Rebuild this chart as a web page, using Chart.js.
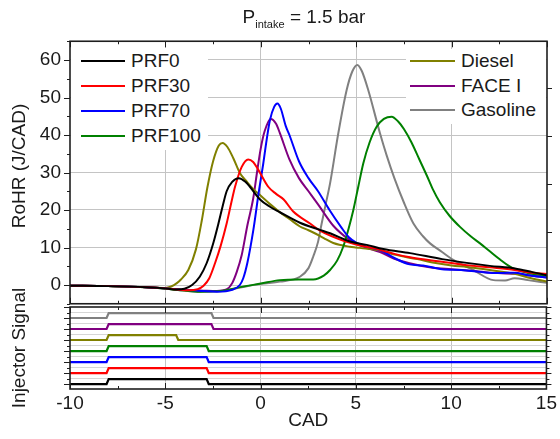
<!DOCTYPE html>
<html>
<head>
<meta charset="utf-8">
<script src="https://cdn.jsdelivr.net/npm/chart.js@4.4.1/dist/chart.umd.min.js"></script>
<style>
  body { margin: 0; background: #fff; font-family: 'Liberation Sans', Arial, sans-serif; color: #1a1a1a; }
  #wrap { position: relative; width: 560px; height: 439px; overflow: hidden; }
  #topChart { position: absolute; left: 0; top: 0; }
  #injChart { position: absolute; left: 0; top: 280px; }
  #title { position: absolute; left: 0; top: 6px; width: 608px; text-align: center; font-size: 19px; line-height: 22px; }
  #title sub { font-size: 11px; vertical-align: -5px; }
  .ytitle { position: absolute; width: 200px; left: -81px; text-align: center; font-size: 19px; line-height: 22px; transform: rotate(-90deg); white-space: nowrap; }
  #rohrTitle { top: 155px; }
  #injTitle { top: 337px; }
  .legend { position: absolute; background: #fff; }
  .legend .row { display: flex; align-items: center; font-size: 19px; white-space: nowrap; }
  .legend .sample { display: inline-block; border-top: 2px solid; }
  #legendLeft { left: 71px; top: 48px; width: 137px; height: 102px; }
  #legendLeft .row { height: 25px; }
  #legendLeft .sample { width: 44px; margin: 0 6px 0 10px; }
  #legendRight { left: 406px; top: 49px; width: 140px; height: 75px; }
  #legendRight .row { height: 24.5px; }
  #legendRight .sample { width: 45px; margin: 0 6px 0 4px; }
</style>
</head>
<body>
<div id="wrap">
  <canvas id="topChart" width="560" height="330"></canvas>
  <canvas id="injChart" width="560" height="159"></canvas>
  <div id="title">P<sub>intake</sub> = 1.5 bar</div>
  <div id="rohrTitle" class="ytitle">RoHR (J/CAD)</div>
  <div id="injTitle" class="ytitle">Injector Signal</div>
  <div id="legendLeft" class="legend"></div>
  <div id="legendRight" class="legend"></div>
</div>
<script>
// --- RoHR curves (CAD, J/CAD) ---
const prf0Cad  = [-10, -8, -6, -5, -4.4, -4.0, -3.6, -3.2, -2.84, -2.5, -2.22, -2.0, -1.79, -1.5, -1.15, -0.8, -0.57, -0.04, 0.5, 1.0, 2.05, 3.1, 3.63, 4.67, 5.55, 6.42, 7.82, 9.5, 10.79, 12, 13.32, 14.2, 15];
const prf0Rohr = [-0.2, -0.3, -0.6, -0.9, -1.2, -1.0, 0, 2.2, 5.8, 11, 16.4, 21, 25, 27.5, 28.5, 27.5, 26.2, 22.8, 20.8, 19.4, 16.6, 14.7, 13.8, 11.6, 10.7, 9.6, 8.5, 6.9, 5.9, 5.1, 4.4, 3.5, 2.6];

const prf30Cad  = [-10, -8, -6, -5, -4.4, -3.8, -3.3, -3.0, -2.7, -2.4, -2.1, -1.79, -1.5, -1.35, -1.0, -0.66, -0.4, -0.13, 0.39, 0.8, 1.2, 1.7, 2.58, 3.1, 4.5, 5.0, 6.0, 7.0, 7.82, 9.5, 10.79, 12, 13.3, 14, 15];
const prf30Rohr = [-0.2, -0.3, -0.6, -0.9, -1.2, -1.4, -1.1, -0.2, 1.8, 5.8, 10.5, 16.4, 23, 26.2, 31.5, 33.5, 32.8, 30.7, 26.2, 24.3, 22.8, 19.6, 16.4, 14.5, 11.5, 10.8, 9.7, 8.3, 7.4, 6.2, 5.3, 4.7, 4.0, 3.4, 2.9];

const prf70Cad  = [-10, -8, -6, -5, -4, -3, -2.3, -1.5, -1.1, -0.92, -0.7, -0.39, -0.1, 0.13, 0.3, 0.48, 0.7, 0.87, 1.05, 1.3, 1.5, 2.0, 2.5, 3.0, 3.6, 4.2, 4.6, 5.0, 5.5, 6.25, 7.0, 7.8, 8.5, 9.5, 10.5, 11.5, 12.5, 13.3, 14, 15];
const prf70Rohr = [-0.2, -0.3, -0.6, -0.9, -1.3, -1.6, -1.8, -1.3, 0, 1.8, 6, 14.7, 25, 32.4, 38.5, 44, 47.5, 48.4, 47, 42.5, 40, 33, 28.5, 25, 20, 15.5, 12.8, 11.3, 10.3, 9.3, 7.2, 5.5, 5.2, 4.2, 4.0, 3.5, 3.2, 3.3, 2.6, 2.0];

const prf100Cad  = [-10, -8, -6, -5, -4, -3.2, -2, -1, 0, 1, 2, 2.75, 3.3, 3.63, 4.0, 4.32, 4.6, 4.85, 5.1, 5.37, 5.7, 6.07, 6.45, 6.86, 7.2, 7.5, 7.9, 8.3, 8.7, 9.0, 9.39, 9.9, 10.44, 11, 11.49, 12, 12.54, 13, 13.3, 14, 15];
const prf100Rohr = [-0.2, -0.3, -0.6, -1.0, -1.5, -1.8, -1.5, -0.5, 0.4, 1.3, 1.5, 1.5, 2.5, 4, 6.5, 10.2, 15, 20, 26, 32.4, 38, 42.2, 44.3, 44.9, 43.6, 41.6, 38, 33.6, 29.2, 25.7, 22, 18.4, 15.5, 13, 11.1, 9, 6.8, 5.1, 4.3, 3.2, 2.4];

const dieselCad  = [-10, -8, -6, -5, -4.7, -4.4, -4.2, -3.8, -3.4, -3.1, -2.8, -2.5, -2.2, -2.0, -1.75, -1.44, -1.09, -0.74, -0.4, 0, 0.5, 1.0, 1.5, 2.05, 2.5, 2.75, 3.3, 3.8, 4.67, 5, 5.5, 6.4, 7, 8.2, 9, 10, 10.8, 12, 13.3, 14, 15];
const dieselRohr = [-0.2, -0.3, -0.6, -0.8, -0.4, 0.5, 1.4, 4, 9.5, 17, 26, 33, 37.2, 37.9, 36.8, 33.8, 29.8, 27.6, 25.6, 23.8, 21.5, 19.4, 17.6, 15.6, 14.6, 14, 12.5, 11.2, 10.2, 10, 9.7, 9, 8.1, 6.9, 6, 5.2, 4.8, 4, 3, 2, 0.9];

const faceCad  = [-10, -8, -6, -5, -4, -3, -2.3, -1.8, -1.5, -1.26, -1.0, -0.7, -0.4, -0.2, 0.0, 0.2, 0.52, 0.8, 1.0, 1.5, 2.0, 2.5, 3.0, 3.8, 4.6, 5.0, 5.5, 6.25, 7, 7.8, 9, 10, 11, 12, 13.3, 14, 15];
const faceRohr = [-0.2, -0.3, -0.6, -0.9, -1.3, -1.5, -1.6, -1.2, 0.5, 3.5, 8, 16, 23, 30, 36.5, 41, 44.3, 43, 40.5, 33.5, 28.5, 25, 21.5, 15.8, 12.2, 11, 10, 8.8, 7, 5.8, 4.6, 4.2, 3.8, 3.3, 3, 2.6, 2.0];

const gasolineCad  = [-10, -8, -6, -5, -4, -3, -2, -1, 0, 1, 2.05, 2.5, 2.75, 3.0, 3.19, 3.4, 3.63, 4.06, 4.5, 4.8, 5.06, 5.3, 5.63, 6.25, 6.6, 7.0, 7.5, 8.0, 8.5, 8.87, 9.5, 10.09, 11.14, 12.19, 12.8, 13.3, 14, 15];
const gasolineRohr = [-0.2, -0.3, -0.6, -1.0, -1.5, -1.8, -1.6, -0.6, 0.3, 0.9, 2.2, 4.5, 7.6, 11.5, 16.4, 21.5, 27.1, 40.4, 52, 57, 58.7, 57, 52, 40.4, 34.5, 28.5, 22, 16.4, 13, 11.1, 8.8, 6.7, 4, 1.3, 1.2, 1.8, 1.3, 0.6];

// --- injector signal: trace offset, pulse start / end (CAD) ---
const fuelNames   = ['PRF0', 'PRF30', 'PRF70', 'PRF100', 'Diesel', 'FACE I', 'Gasoline'];
const fuelColors  = ['#000000', '#ff0000', '#0000ff', '#008000', '#808000', '#800080', '#808080'];
const injLevel    = [0, 1, 2, 3, 4, 5, 6];
const injStart    = [-8.05, -8.05, -8.05, -8.05, -8.05, -8.05, -8.05];
const injEnd      = [-2.8, -2.8, -2.8, -2.8, -4.4, -2.55, -2.55];
const pulseHeight = 0.45;

// --- axes ---
const xMajorTicks = [-10, -5, 0, 5, 10, 15];
const xMinorTicks = [-7.5, -2.5, 2.5, 7.5, 12.5];
const rohrMajorTicks = [0, 10, 20, 30, 40, 50, 60];
const rohrMinorTicks = [-5, 5, 15, 25, 35, 45, 55, 65];
const rightTicks = [0, 1, 2, 3, 4];
const injMajorTicks = [0, 1, 2, 3, 4, 5, 6, 7];
const injMinorTicks = [0.5, 1.5, 2.5, 3.5, 4.5, 5.5, 6.5];

const fontFamily = "'Liberation Sans', Arial, sans-serif";
const gridColor = '#c4c4c4';

const series = [
    [prf0Cad, prf0Rohr], [prf30Cad, prf30Rohr], [prf70Cad, prf70Rohr], [prf100Cad, prf100Rohr],
    [dieselCad, dieselRohr], [faceCad, faceRohr], [gasolineCad, gasolineRohr]
];

// frame + tick marks (x ticks point inward, y ticks outward)
const frameTicks = {
    id: 'frameTicks',
    afterDraw(chart, args, o) {
        const { ctx, chartArea: a } = chart;
        const x = chart.scales.x;
        ctx.save();
        ctx.strokeStyle = '#1e1e1e';
        ctx.lineWidth = 1;
        ctx.beginPath();
        const tick = (list, len) => list.forEach(v => {
            const px = Math.round(x.getPixelForValue(v)) + 0.5;
            ctx.moveTo(px, a.top); ctx.lineTo(px, a.top + len);
            ctx.moveTo(px, a.bottom); ctx.lineTo(px, a.bottom - len);
        });
        tick(xMajorTicks, 6);
        tick(xMinorTicks, 3);
        const ytick = (scale, list, len, side) => list.forEach(v => {
            const py = Math.round(scale.getPixelForValue(v)) + 0.5;
            if (py < a.top - 1 || py > a.bottom + 1) return;
            if (side === 'left') { ctx.moveTo(a.left, py); ctx.lineTo(a.left - len, py); }
            else { ctx.moveTo(a.right, py); ctx.lineTo(a.right + len, py); }
        });
        const ly = chart.scales[o.leftScale];
        ytick(ly, o.leftMajor, 6, 'left');
        ytick(ly, o.leftMinor, 3, 'left');
        const ry = chart.scales[o.rightScale];
        ytick(ry, o.rightMajor, 5, 'right');
        ytick(ry, o.rightMinor, 3, 'right');
        ctx.stroke();
        ctx.lineWidth = 1.6;
        ctx.strokeRect(a.left, a.top, a.right - a.left, a.bottom - a.top);
        ctx.restore();
    }
};

// nudge layout padding until the plot area sits where the figure has it
function fitChartArea(chart, target) {
    for (let i = 0; i < 3; i++) {
        const a = chart.chartArea;
        const p = chart.options.layout.padding;
        chart.options.layout.padding = {
            top: p.top + target.top - a.top,
            bottom: p.bottom + a.bottom - target.bottom,
            left: p.left + target.left - a.left,
            right: p.right + a.right - target.right
        };
        chart.update();
    }
}

const setTicks = values => scale => { scale.ticks = values.map(v => ({ value: v })); };

// --- top panel: rate of heat release ---
const topChart = new Chart(document.getElementById('topChart'), {
    type: 'line',
    data: {
        datasets: series.map(([cad, rohr], i) => ({
            label: fuelNames[i],
            data: cad.map((c, k) => ({ x: c, y: rohr[k] })),
            borderColor: fuelColors[i],
            borderWidth: 2,
            pointRadius: 0,
            fill: false,
            cubicInterpolationMode: 'monotone'
        }))
    },
    options: {
        responsive: false,
        animation: false,
        layout: { padding: { top: 41, bottom: 26, left: 0, right: 13 } },
        plugins: {
            legend: { display: false },
            tooltip: { enabled: false },
            frameTicks: { leftScale: 'y', leftMajor: rohrMajorTicks, leftMinor: rohrMinorTicks,
                          rightScale: 'y2', rightMajor: rightTicks, rightMinor: [] }
        },
        scales: {
            x: {
                type: 'linear', min: -10, max: 15,
                afterBuildTicks: setTicks([-5, 0, 5, 10]),
                ticks: { display: false },
                grid: { drawTicks: false, color: gridColor },
                border: { display: false },
                afterFit: s => { s.height = 0; }
            },
            y: {
                min: -5, max: 65,
                afterBuildTicks: setTicks(rohrMajorTicks),
                ticks: { padding: 9, color: '#1a1a1a', font: { family: fontFamily, size: 19 } },
                grid: { drawTicks: false, color: gridColor },
                border: { display: false },
                afterFit: s => { s.width = 70; }
            },
            y2: { type: 'linear', position: 'right', display: false, min: -0.5, max: 4.97 }
        }
    },
    plugins: [frameTicks]
});
fitChartArea(topChart, { top: 41.25, bottom: 303.75, left: 70, right: 547 });

// --- bottom panel: injector signal ---
const injChart = new Chart(document.getElementById('injChart'), {
    type: 'line',
    data: {
        datasets: fuelNames.map((name, i) => {
            const lv = injLevel[i], s = injStart[i], e = injEnd[i];
            return {
                label: name,
                data: [
                    { x: -10, y: lv }, { x: s - 0.03, y: lv }, { x: s + 0.08, y: lv + pulseHeight },
                    { x: e - 0.03, y: lv + pulseHeight }, { x: e + 0.08, y: lv }, { x: 15, y: lv }
                ],
                borderColor: fuelColors[i],
                borderWidth: 2.2,
                pointRadius: 0,
                fill: false,
                tension: 0
            };
        })
    },
    options: {
        responsive: false,
        animation: false,
        layout: { padding: { top: 27, bottom: 0, left: 0, right: 13 } },
        plugins: {
            legend: { display: false },
            tooltip: { enabled: false },
            frameTicks: { leftScale: 'y', leftMajor: injMajorTicks, leftMinor: injMinorTicks,
                          rightScale: 'y', rightMajor: injMajorTicks, rightMinor: injMinorTicks }
        },
        scales: {
            x: {
                type: 'linear', min: -10, max: 15,
                afterBuildTicks: setTicks(xMajorTicks),
                ticks: { padding: 3, color: '#1a1a1a', font: { family: fontFamily, size: 19 } },
                grid: { drawTicks: false, color: c => (c.tick.value > -10 && c.tick.value < 15) ? gridColor : 'rgba(0,0,0,0)' },
                border: { display: false },
                title: { display: true, text: 'CAD', color: '#1a1a1a', font: { family: fontFamily, size: 19 }, padding: { top: 0, bottom: 7 } },
                afterFit: s => { s.height = 50; }
            },
            y: {
                min: -0.45, max: 7.0,
                afterBuildTicks: setTicks(injMinorTicks),
                ticks: { display: false },
                grid: { drawTicks: false, color: '#d6d6d6' },
                border: { display: false },
                afterFit: s => { s.width = 70; }
            }
        }
    },
    plugins: [frameTicks]
});
fitChartArea(injChart, { top: 27, bottom: 109, left: 70, right: 547 });

// --- HTML legends, two blocks inside the top panel ---
function buildLegend(chart, ids, el) {
    ids.forEach(i => {
        const ds = chart.data.datasets[i];
        const row = document.createElement('div');
        row.className = 'row';
        const line = document.createElement('span');
        line.className = 'sample';
        line.style.borderTopColor = ds.borderColor;
        const txt = document.createElement('span');
        txt.textContent = ds.label;
        row.append(line, txt);
        el.appendChild(row);
    });
}
buildLegend(topChart, [0, 1, 2, 3], document.getElementById('legendLeft'));
buildLegend(topChart, [4, 5, 6], document.getElementById('legendRight'));
</script>
</body>
</html>
